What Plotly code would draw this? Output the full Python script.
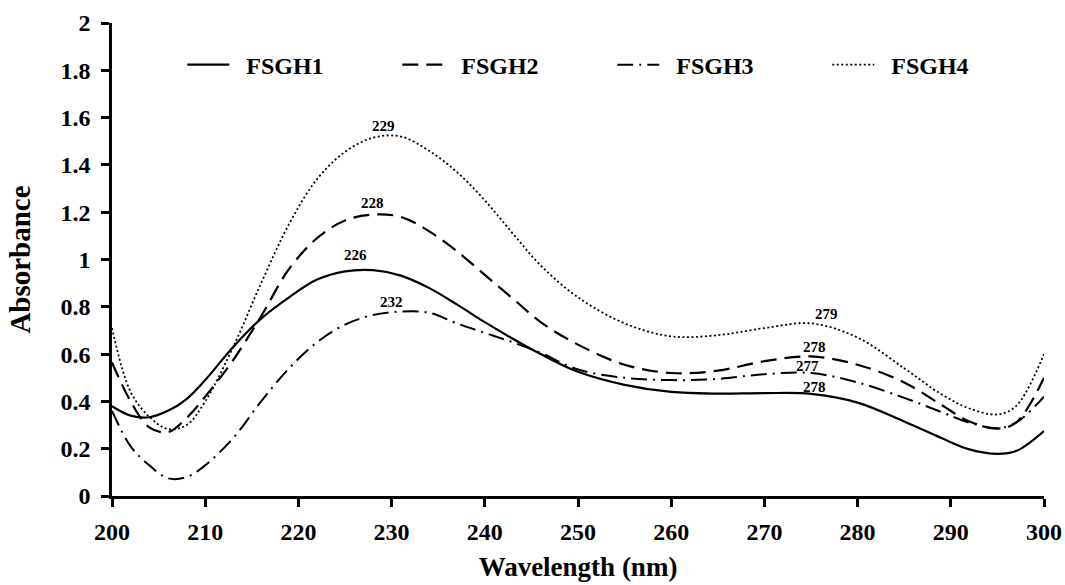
import plotly.graph_objects as go

wl = [200, 202, 204, 206, 208, 210, 213, 216, 219, 222, 225, 228, 231, 234, 237, 240, 243, 246, 250, 255, 260, 265, 270, 275, 280, 285, 289, 292, 295, 297, 300]

fsgh1 = [0.38, 0.34, 0.333, 0.36, 0.41, 0.49, 0.63, 0.75, 0.84, 0.915, 0.95, 0.955, 0.932, 0.88, 0.81, 0.735, 0.665, 0.60, 0.525, 0.47, 0.44, 0.433, 0.435, 0.432, 0.395, 0.315, 0.245, 0.197, 0.178, 0.19, 0.275]
fsgh2 = [0.565, 0.40, 0.29, 0.27, 0.33, 0.42, 0.575, 0.76, 0.96, 1.09, 1.165, 1.19, 1.18, 1.12, 1.035, 0.935, 0.835, 0.735, 0.64, 0.555, 0.52, 0.53, 0.57, 0.59, 0.555, 0.48, 0.385, 0.315, 0.285, 0.31, 0.50]
fsgh3 = [0.36, 0.21, 0.13, 0.075, 0.08, 0.13, 0.245, 0.40, 0.54, 0.65, 0.725, 0.765, 0.78, 0.775, 0.73, 0.69, 0.65, 0.605, 0.535, 0.50, 0.49, 0.495, 0.515, 0.52, 0.48, 0.415, 0.355, 0.31, 0.287, 0.31, 0.42]
fsgh4 = [0.71, 0.44, 0.335, 0.283, 0.30, 0.40, 0.63, 0.90, 1.15, 1.34, 1.455, 1.515, 1.52, 1.46, 1.37, 1.25, 1.11, 0.975, 0.84, 0.73, 0.675, 0.68, 0.71, 0.73, 0.67, 0.54, 0.43, 0.37, 0.345, 0.38, 0.60]

series_names = ["FSGH1", "FSGH2", "FSGH3", "FSGH4"]
series_values = [fsgh1, fsgh2, fsgh3, fsgh4]
dashes = ["solid", "16px,8px", "16px,6px,2px,6px", "2px,2.5px"]
widths = [2.2, 2.2, 2.0, 1.8]

peak_labels = ["229", "228", "226", "232", "279", "278", "277", "278"]
peak_x = [229.1, 228.0, 226.1, 230.0, 276.7, 275.4, 274.6, 275.4]
peak_y = [1.565, 1.24, 1.02, 0.82, 0.77, 0.63, 0.55, 0.46]

y_ticks = [0, 0.2, 0.4, 0.6, 0.8, 1, 1.2, 1.4, 1.6, 1.8, 2]
y_text = ["0", "0.2", "0.4", "0.6", "0.8", "1", "1.2", "1.4", "1.6", "1.8", "2"]
x_ticks = [200, 210, 220, 230, 240, 250, 260, 270, 280, 290, 300]

SERIF = "Liberation Serif, Times New Roman, serif"

fig = go.Figure()
for name, ys, dash, w in zip(series_names, series_values, dashes, widths):
    fig.add_trace(go.Scatter(x=wl, y=ys, mode="lines", name="\u00a0\u00a0" + name,
                             line=dict(color="black", dash=dash, width=w, shape="spline", smoothing=1.0)))

for t, x, y in zip(peak_labels, peak_x, peak_y):
    fig.add_annotation(x=x, y=y, text="<b>" + t + "</b>", showarrow=False,
                       font=dict(family=SERIF, size=15, color="black"))

fig.update_layout(
    width=1065, height=585,
    margin=dict(l=112, r=21, t=23, b=89),
    plot_bgcolor="white", paper_bgcolor="white",
    font=dict(family=SERIF, color="black"),
    showlegend=True,
    legend=dict(orientation="h", x=0.0754, y=0.911, xanchor="left", yanchor="middle",
                itemwidth=42, entrywidth=158, entrywidthmode="pixels",
                font=dict(family=SERIF, size=24, color="black", weight="bold"),
                bgcolor="rgba(0,0,0,0)"),
    xaxis=dict(range=[200, 300], tickvals=x_ticks, showline=True, linecolor="black", linewidth=2.5,
               ticks="outside", ticklen=8, tickwidth=2.5, tickcolor="black", showgrid=False, zeroline=False,
               ticklabelstandoff=4, automargin=False,
               tickfont=dict(family=SERIF, size=24, color="black", weight="bold"),
               title=dict(text="Wavelength (nm)", standoff=14,
                          font=dict(family=SERIF, size=27, color="black", weight="bold"))),
    yaxis=dict(range=[0, 2], tickvals=y_ticks, ticktext=y_text, showline=True, linecolor="black", linewidth=2.5,
               ticks="outside", ticklen=8, tickwidth=2.5, tickcolor="black", showgrid=False, zeroline=False,
               ticklabelstandoff=6, automargin=False,
               tickfont=dict(family=SERIF, size=24, color="black", weight="bold"),
               title=dict(text="Absorbance", standoff=22,
                          font=dict(family=SERIF, size=29, color="black", weight="bold"))),
)

fig.write_html("out.html")
